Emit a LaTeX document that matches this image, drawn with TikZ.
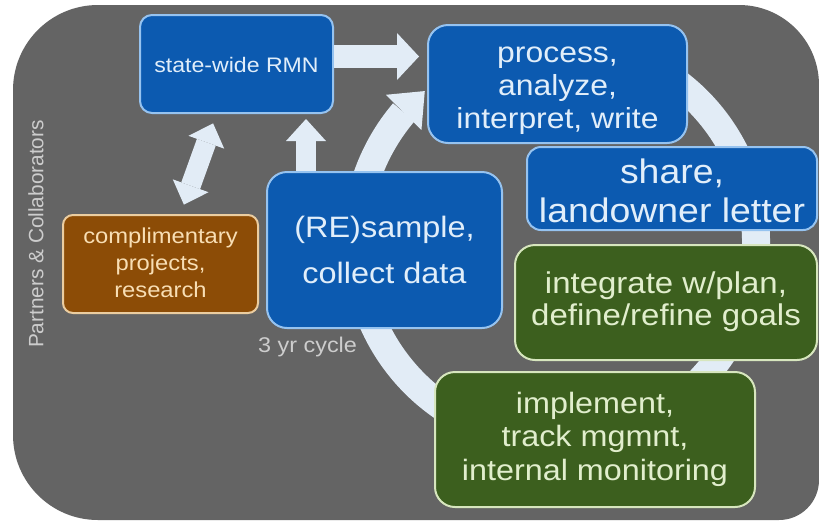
\documentclass[tikz,border=0pt]{standalone}
\usepackage{fontspec}
\setmainfont[FakeStretch=1.1]{Liberation Sans}
\newfontfamily\sidefont{Liberation Sans}
\usetikzlibrary{arrows.meta,bending,calc}

\definecolor{panelgrey}{RGB}{100,100,100}
\definecolor{flowfill}{RGB}{226,236,246}
\definecolor{boxblue}{RGB}{12,90,176}
\definecolor{edgeblue}{RGB}{150,195,240}
\definecolor{textblue}{RGB}{225,238,250}
\definecolor{boxgreen}{RGB}{60,95,30}
\definecolor{edgegreen}{RGB}{215,230,190}
\definecolor{textgreen}{RGB}{225,238,205}
\definecolor{boxbrown}{RGB}{140,76,6}
\definecolor{edgebrown}{RGB}{235,205,160}
\definecolor{textbrown}{RGB}{248,222,180}
\definecolor{labelgrey}{RGB}{205,205,205}

\begin{document}
\begin{tikzpicture}[x=1pt,y=-1pt,
  box/.style={rectangle, line width=2pt, inner sep=0pt, align=center},
  bluebox/.style={box, fill=boxblue, draw=edgeblue, text=textblue},
  greenbox/.style={box, fill=boxgreen, draw=edgegreen, text=textgreen},
  brownbox/.style={box, fill=boxbrown, draw=edgebrown, text=textbrown},
  flow/.style={draw=flowfill, line width=#1},
  sidelabel/.style={text=labelgrey},
]
% canvas and rounded panel
\useasboundingbox (0,0) rectangle (819,523);
\fill[white] (0,0) rectangle (819,523);
\fill[panelgrey] (98,5) -- (739,5) arc[start angle=-90, end angle=0, radius=80]
  -- (819,480) arc[start angle=0, end angle=90, radius=40]
  -- (98,520) arc[start angle=90, end angle=180, radius=85]
  -- (13,90) arc[start angle=180, end angle=270, radius=85] -- cycle;

% the three-year cycle ring
\coordinate (hub) at (556,242);
\draw[flow=28pt, -{Triangle[width=50pt,length=30pt,line width=0pt]}]
  ($(hub)+(-60:200)$) arc[start angle=-60, end angle=229, radius=200];

% boxes (text height/depth measured from the last line's baseline)
\node[bluebox, rounded corners=12pt, minimum width=193pt, text height=57pt, text depth=41pt,
  font=\fontsize{21}{25}\selectfont] (rmn) at (236.5,64) {state-wide RMN};
\node[bluebox, rounded corners=20pt, minimum width=259pt, text height=103pt, text depth=15pt,
  font=\fontsize{29}{33}\selectfont] (proc) at (557.5,84) {process,\\analyze,\\interpret, write};
\node[bluebox, rounded corners=14pt, minimum width=290pt, text height=75pt, text depth=8pt,
  font=\fontsize{34}{39}\selectfont] (share) at (672,188.5) {share,\\landowner letter};
\node[greenbox, rounded corners=20pt, minimum width=302pt, text height=80pt, text depth=35pt,
  font=\fontsize{30}{32}\selectfont] (integ) at (666,302.5) {integrate w/plan,\\define/refine goals};
\node[greenbox, rounded corners=20pt, minimum width=320pt, text height=108pt, text depth=27pt,
  font=\fontsize{29.4}{33.5}\selectfont] (impl) at (595,439.5) {implement,\\track mgmnt,\\internal monitoring};
\node[bluebox, rounded corners=20pt, minimum width=235pt, text height=111pt, text depth=45pt,
  font=\fontsize{29.5}{46}\selectfont] (resample) at (384.5,250) {(RE)sample,\\collect data};
\node[brownbox, rounded corners=10pt, minimum width=195pt, text height=82pt, text depth=16pt,
  font=\fontsize{21.6}{27}\selectfont] (partner) at (160.5,264) {complimentary\\projects,\\research};

% block arrows between boxes
\coordinate (rmnout) at ($(rmn.east)+(0,-7.5)$);
\draw[flow=23pt, -{Triangle[width=47pt,length=22pt,line width=0pt]}, shorten >=8pt]
  (rmnout) -- (rmnout -| proc.west);
\coordinate (upfoot) at ($(resample.north west)+(40,0)$);
\draw[flow=20pt, -{Triangle[width=40pt,length=22pt,line width=0pt]}, shorten >=5pt]
  (upfoot) -- (upfoot |- rmn.south);
\draw[flow=20pt, {Triangle[width=38pt,length=20pt,line width=0pt]}-{Triangle[width=38pt,length=20pt,line width=0pt]},
  shorten <=10pt, shorten >=10pt]
  ($(rmn.south)+(-20,0)$) -- ($(partner.north)+(20,0)$);

% free labels
\node[sidelabel, anchor=base, font=\fontsize{21.3}{25}\selectfont] (cycle) at (307.5,352) {3 yr cycle};
\node[sidelabel, rotate=90, font=\sidefont\fontsize{20.8}{25}\selectfont] (collab) at (36,234) {Partners \& Collaborators};
\end{tikzpicture}
\end{document}
